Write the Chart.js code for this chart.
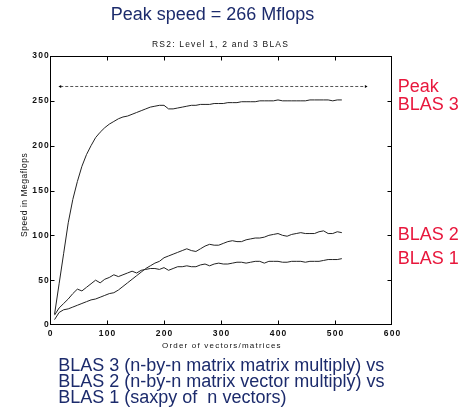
<!DOCTYPE html>
<html>
<head>
<meta charset="utf-8">
<script src="https://cdn.jsdelivr.net/npm/chart.js@4"></script>
<style>
  html, body { margin: 0; padding: 0; background: #fff; }
  canvas { display: block; }
</style>
</head>
<body>
<canvas id="blasChart" width="461" height="417"></canvas>
<script>
// Order n of the vectors / matrices
const orderN = [
  8, 16, 24, 32, 40, 48, 56, 64,
  72, 80, 88, 96, 104, 112, 120, 128,
  136, 144, 152, 160, 168, 176, 184, 192,
  200, 208, 216, 224, 232, 240, 248, 256,
  264, 272, 280, 288, 296, 304, 312, 320,
  328, 336, 344, 352, 360, 368, 376, 384,
  392, 400, 408, 416, 424, 432, 440, 448,
  456, 464, 472, 480, 488, 496, 504, 512
];

// Mflops measured on the RS2
const blas3 = [
  12, 46, 80, 114, 140, 160, 177, 190,
  200, 209, 215, 220, 224, 227, 230, 232,
  233, 235, 237, 239, 241, 243, 244, 245,
  245, 241, 241, 242, 243, 244, 245, 245,
  246, 246, 246, 247, 247, 247, 248, 248,
  248, 249, 249, 249, 249, 250, 250, 250,
  250, 251, 250, 250, 250, 250, 250, 250,
  251, 251, 251, 251, 251, 250, 251, 251
];
const blas2 = [
  6, 14, 17, 18, 20, 22, 24, 26,
  28, 29, 31, 33, 35, 36, 39, 43,
  47, 51, 55, 59, 63, 66, 69, 71,
  75, 77, 79, 81, 83, 85, 83, 82,
  85, 88, 90, 89, 89, 91, 93, 94,
  93, 93, 95, 96, 97, 97, 98, 100,
  101, 102, 100, 99, 101, 102, 103, 102,
  102, 102, 104, 105, 102, 102, 104, 103
];
const blas1 = [
  11, 19, 24, 29, 35, 40, 38, 42,
  46, 50, 47, 51, 53, 56, 54, 56,
  58, 60, 58, 61, 62, 63, 63, 62,
  64, 61, 63, 65, 65, 66, 65, 65,
  67, 68, 66, 68, 69, 68, 68, 69,
  70, 70, 69, 70, 71, 71, 69, 71,
  71, 71, 70, 70, 71, 71, 71, 70,
  71, 71, 71, 72, 73, 73, 73, 74
];

// peak rate, drawn as a double arrow across the plot
const peakSpeed = 266;
const peakSpan = [18, 554];

const xTicks = [0, 100, 200, 300, 400, 500, 600];
const yTicks = [0, 50, 100, 150, 200, 250, 300];

const heading = 'Peak speed = 266 Mflops';
const plotTitle = 'RS2: Level 1, 2 and 3 BLAS';
const xTitle = 'Order of vectors/matrices';
const yTitle = 'Speed in Megaflops';
const sideLabels = ['Peak', 'BLAS 3', 'BLAS 2', 'BLAS 1'];
const caption = [
  'BLAS 3 (n-by-n matrix matrix multiply) vs',
  'BLAS 2 (n-by-n matrix vector multiply) vs',
  'BLAS 1 (saxpy of  n vectors)'
];

const toPoints = (ys) => ys.map((v, i) => ({ x: orderN[i], y: v }));

function curve(label, values) {
  return {
    label,
    data: toPoints(values),
    borderColor: '#222',
    borderWidth: 1,
    pointRadius: 0,
    tension: 0
  };
}

// box, inward ticks and all the text around the axes
const matlabFrame = {
  id: 'matlabFrame',
  afterDraw(chart) {
    const { ctx, chartArea: a, scales: { x, y } } = chart;
    const L = Math.round(a.left) + 0.5, R = Math.round(a.right) - 0.5;
    const T = Math.round(a.top) + 0.5, B = Math.round(a.bottom) - 0.5;
    ctx.save();
    ctx.strokeStyle = '#000';
    ctx.lineWidth = 1;
    ctx.strokeRect(L, T, R - L, B - T);

    ctx.beginPath();
    x.ticks.forEach(t => {
      if (t.value <= x.min || t.value >= x.max) return;
      const px = Math.round(x.getPixelForValue(t.value)) + 0.5;
      ctx.moveTo(px, B); ctx.lineTo(px, B - 4);
      ctx.moveTo(px, T); ctx.lineTo(px, T + 4);
    });
    y.ticks.forEach(t => {
      if (t.value <= y.min || t.value >= y.max) return;
      const py = Math.round(y.getPixelForValue(t.value)) + 0.5;
      ctx.moveTo(L, py); ctx.lineTo(L + 4, py);
      ctx.moveTo(R, py); ctx.lineTo(R - 4, py);
    });
    ctx.stroke();

    // tick labels
    ctx.fillStyle = '#111';
    ctx.font = 'bold 8.5px "Liberation Sans"';
    ctx.letterSpacing = '1.2px';
    ctx.textBaseline = 'middle';
    ctx.textAlign = 'right';
    y.ticks.forEach(t => {
      ctx.fillText(String(t.value), a.left, y.getPixelForValue(t.value));
    });
    ctx.textAlign = 'center';
    x.ticks.forEach(t => {
      ctx.fillText(String(t.value), x.getPixelForValue(t.value) + 0.6, a.bottom + 9);
    });

    // plot title and axis titles
    ctx.textBaseline = 'alphabetic';
    ctx.textAlign = 'left';
    ctx.font = '8.5px "Liberation Sans"';
    ctx.letterSpacing = '1.2px';
    ctx.fillText(plotTitle, 152, 46.7);
    ctx.font = '8px "Liberation Sans"';
    ctx.fillText(xTitle, 162, 347.5);
    ctx.font = '8.5px "Liberation Sans"';
    ctx.letterSpacing = '0.5px';
    ctx.save();
    ctx.translate(26.7, 237);
    ctx.rotate(-Math.PI / 2);
    ctx.fillText(yTitle, 0, 0);
    ctx.restore();

    // slide text
    ctx.letterSpacing = '0px';
    ctx.font = '18px "Liberation Sans"';
    ctx.fillStyle = '#1c2b6c';
    ctx.textAlign = 'center';
    ctx.fillText(heading, 212.5, 20);
    ctx.textAlign = 'left';
    caption.forEach((line, i) => ctx.fillText(line, 58.3, 370.7 + i * 16.3));

    ctx.fillStyle = '#e8173c';
    const sideY = [92.3, 110, 240, 263.5];
    sideLabels.forEach((s, i) => ctx.fillText(s, 397.7, sideY[i]));
    ctx.restore();
  }
};

const config = {
  type: 'line',
  data: {
    datasets: [
      curve('BLAS 3', blas3),
      curve('BLAS 2', blas2),
      curve('BLAS 1', blas1),
      {
        label: 'Peak',
        data: peakSpan.map(n => ({ x: n, y: peakSpeed })),
        borderColor: '#555',
        borderWidth: 1,
        borderDash: [3, 2],
        pointStyle: 'triangle',
        pointRadius: 1.8,
        pointRotation: [-90, 90],
        pointBackgroundColor: '#000',
        pointBorderColor: '#000',
        pointBorderWidth: 0
      }
    ]
  },
  options: {
    responsive: false,
    devicePixelRatio: 1,
    animation: false,
    layout: { padding: { left: 50, top: 56, right: 69, bottom: 92 } },
    plugins: {
      legend: { display: false },
      tooltip: { enabled: false },
      title: { display: false }
    },
    scales: {
      x: {
        type: 'linear',
        min: xTicks[0],
        max: xTicks[xTicks.length - 1],
        afterBuildTicks(scale) { scale.ticks = xTicks.map(v => ({ value: v })); },
        ticks: { display: false },
        grid: { display: false },
        border: { display: false },
        afterFit(scale) { scale.height = 0; }
      },
      y: {
        type: 'linear',
        min: yTicks[0],
        max: yTicks[yTicks.length - 1],
        afterBuildTicks(scale) { scale.ticks = yTicks.map(v => ({ value: v })); },
        ticks: { display: false },
        grid: { display: false },
        border: { display: false },
        afterFit(scale) { scale.width = 0; }
      }
    }
  },
  plugins: [matlabFrame]
};

new Chart(document.getElementById('blasChart').getContext('2d'), config);
</script>
</body>
</html>
